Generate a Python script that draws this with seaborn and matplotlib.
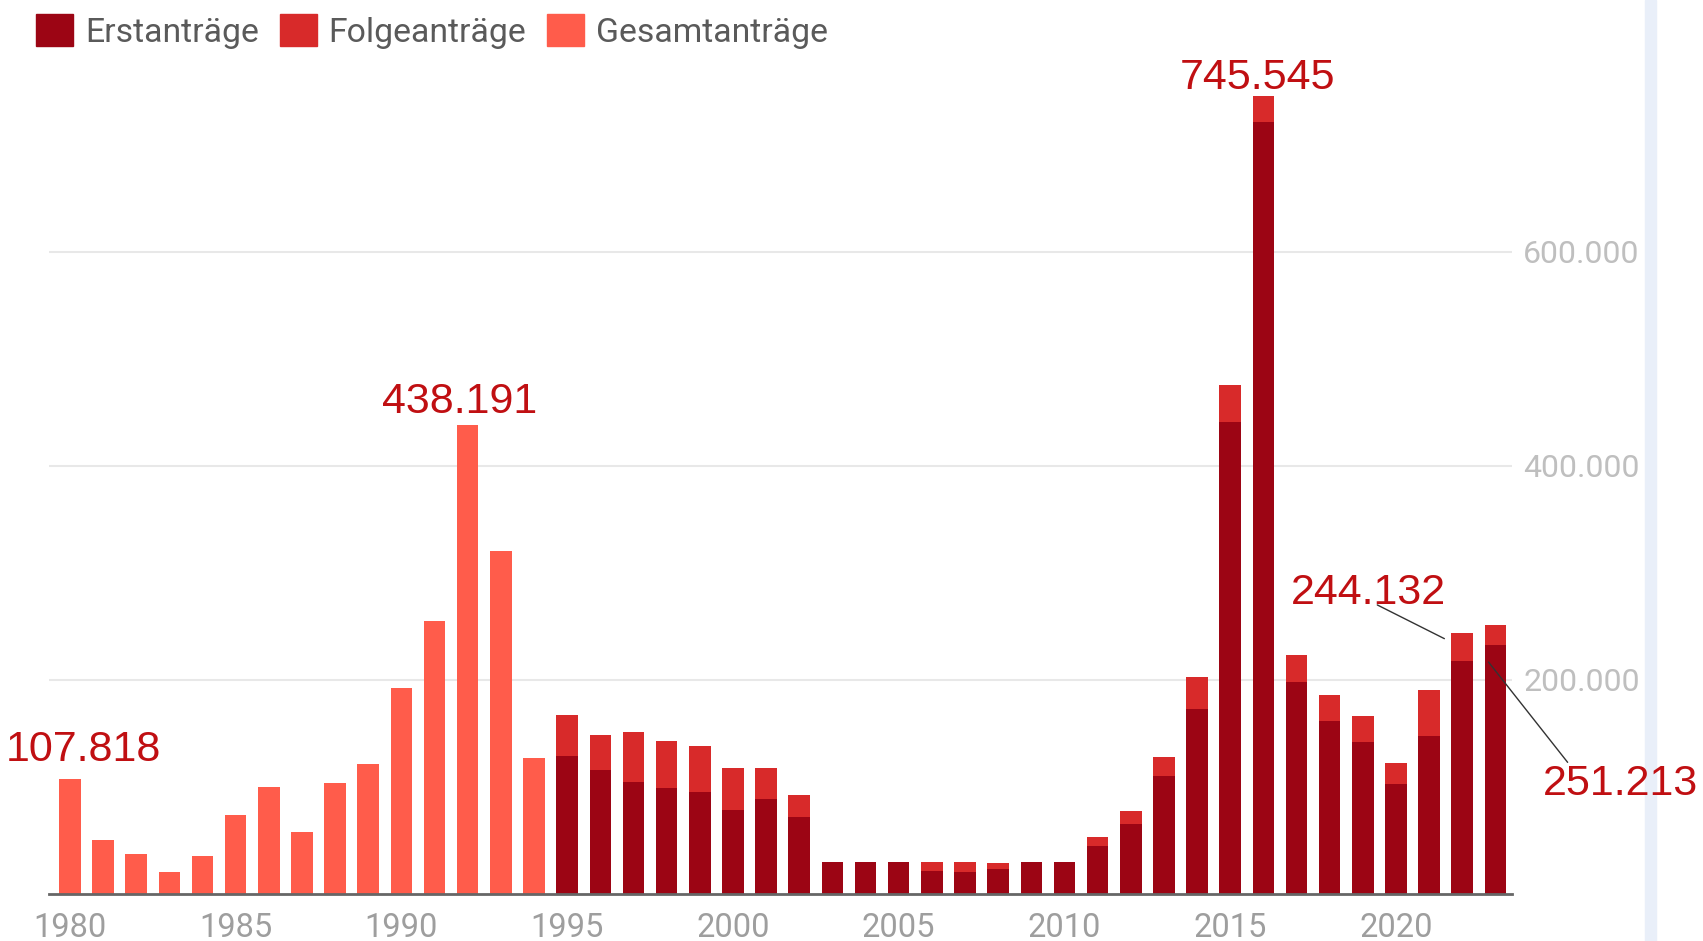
import numpy as np
import pandas as pd
import matplotlib.pyplot as plt
import seaborn as sns
from matplotlib.patches import Patch, Rectangle
from matplotlib.ticker import FuncFormatter

sns.set_style('white')
plt.rcParams['font.family'] = ['Roboto', 'DejaVu Sans']

# Asylanträge per year
years = list(range(1980, 2024))
gesamt = [107818, 50200, 37700, 20600, 35200, 74100, 100300, 58300, 103400, 121700,
          192800, 255400, 438191, 320700, 127100]          # 1980-1994
erst = [128700, 116200, 104700, 99100, 95300, 78500, 88800, 71700, 30200, 30200,
        30200, 21800, 20200, 23400, 30200, 30200, 45300, 65400, 110000, 173200,
        441100, 721000, 197800, 162000, 142100, 102800, 147400, 217400, 233000]  # 1995-2023
folge = [38300, 32700, 46700, 44200, 43300, 39600, 29300, 20500, 0, 0,
         0, 8400, 10000, 5300, 0, 0, 8100, 11900, 17700, 29300,
         34200, 24545, 25300, 24000, 23900, 19900, 43600, 26732, 18213]

c_erst = '#9c0514'
c_folge = '#d82a2a'
c_gesamt = '#ff5c4b'
c_ann = '#c00f12'

n_old = len(gesamt)
df = pd.DataFrame({'Jahr': years})
df['Gesamt'] = gesamt + [np.nan] * len(erst)
df['Erst'] = [np.nan] * n_old + erst
df['Folge'] = [np.nan] * n_old + folge
df['Summe'] = df['Erst'] + df['Folge']

def de(v, pos=None):
    return f"{int(v):,}".replace(",", ".")

fig = plt.figure(figsize=(17.03, 9.41), dpi=100)
ax = fig.add_axes([49 / 1703, 1 - 894 / 941, (1512 - 49) / 1703, (894 - 60) / 941])

# stacked bars: total in Folge colour, Erst drawn over it
bar_kw = dict(order=years, saturation=1, width=0.65, errorbar=None, ax=ax,
              linewidth=0, edgecolor='none')
sns.barplot(data=df, x='Jahr', y='Gesamt', color=c_gesamt, **bar_kw)
sns.barplot(data=df, x='Jahr', y='Summe', color=c_folge, **bar_kw)
sns.barplot(data=df, x='Jahr', y='Erst', color=c_erst, **bar_kw)

ax.set(xlabel='', ylabel='')
ax.set_xlim(-0.63, 43.5)
ax.set_ylim(0, 779400)

ax.set_yticks([200000, 400000, 600000])
ax.yaxis.set_major_formatter(FuncFormatter(de))
ax.yaxis.tick_right()
ax.tick_params(axis='y', length=0, pad=8, labelsize=23, labelcolor='#bfbfbf')
ax.grid(axis='y', color='#e8e8e8', lw=1.5)
ax.set_axisbelow(True)

xt = list(range(0, len(years), 5))
ax.set_xticks(xt)
ax.set_xticklabels([str(years[i]) for i in xt])
ax.tick_params(axis='x', length=0, pad=13, labelsize=23.5, labelcolor='#9e9e9e')

for s in ['left', 'right', 'top']:
    ax.spines[s].set_visible(False)
ax.spines['bottom'].set_color('#666666')
ax.spines['bottom'].set_linewidth(2)

# value labels
tot = df['Gesamt'].fillna(df['Summe'])
ann_kw = dict(textcoords='offset points', fontsize=31, color=c_ann,
              family='Liberation Sans', annotation_clip=False, zorder=5)
for i, dx, dy in [(0, 10, 6), (12, -6, 2), (36, -4, -1)]:
    ax.annotate(de(tot[i]), xy=(i, tot[i]), xytext=(dx, dy),
                ha='center', va='bottom', **ann_kw)

i22 = years.index(2022)
ax.annotate(de(tot[i22]), xy=(i22 - 0.54, tot[i22] - 5500), xytext=(-55, 25),
            ha='center', va='baseline',
            arrowprops=dict(arrowstyle='-', color='#333333', lw=1, patchA=None,
                            shrinkA=0, shrinkB=0, relpos=(0.56, 0.2)), **ann_kw)
i23 = years.index(2023)
ax.annotate(de(tot[i23]), xy=(i23 - 0.21, tot[i23] - 34400), xytext=(95, -96),
            ha='center', va='baseline',
            arrowprops=dict(arrowstyle='-', color='#333333', lw=1, patchA=None,
                            shrinkA=0, shrinkB=0, relpos=(0.16, 1.05)), **ann_kw)

handles = [Patch(color=c_erst, label='Erstanträge'),
           Patch(color=c_folge, label='Folgeanträge'),
           Patch(color=c_gesamt, label='Gesamtanträge')]
fig.legend(handles=handles, loc='upper left', bbox_to_anchor=(36 / 1703, 1 - 14 / 941),
           ncol=3, frameon=False, fontsize=24.3, handlelength=1.1, handleheight=1.1,
           handletextpad=0.35, columnspacing=0.62, borderpad=0, borderaxespad=0,
           labelcolor='#5a5a5a')

# light scrollbar-like stripe on the right edge, behind everything
fig.patches.append(Rectangle((1645 / 1703, 0), 11 / 1703, 1, transform=fig.transFigure,
                             color='#e9eff9', zorder=-10))

fig.savefig('out.png', dpi=100)
